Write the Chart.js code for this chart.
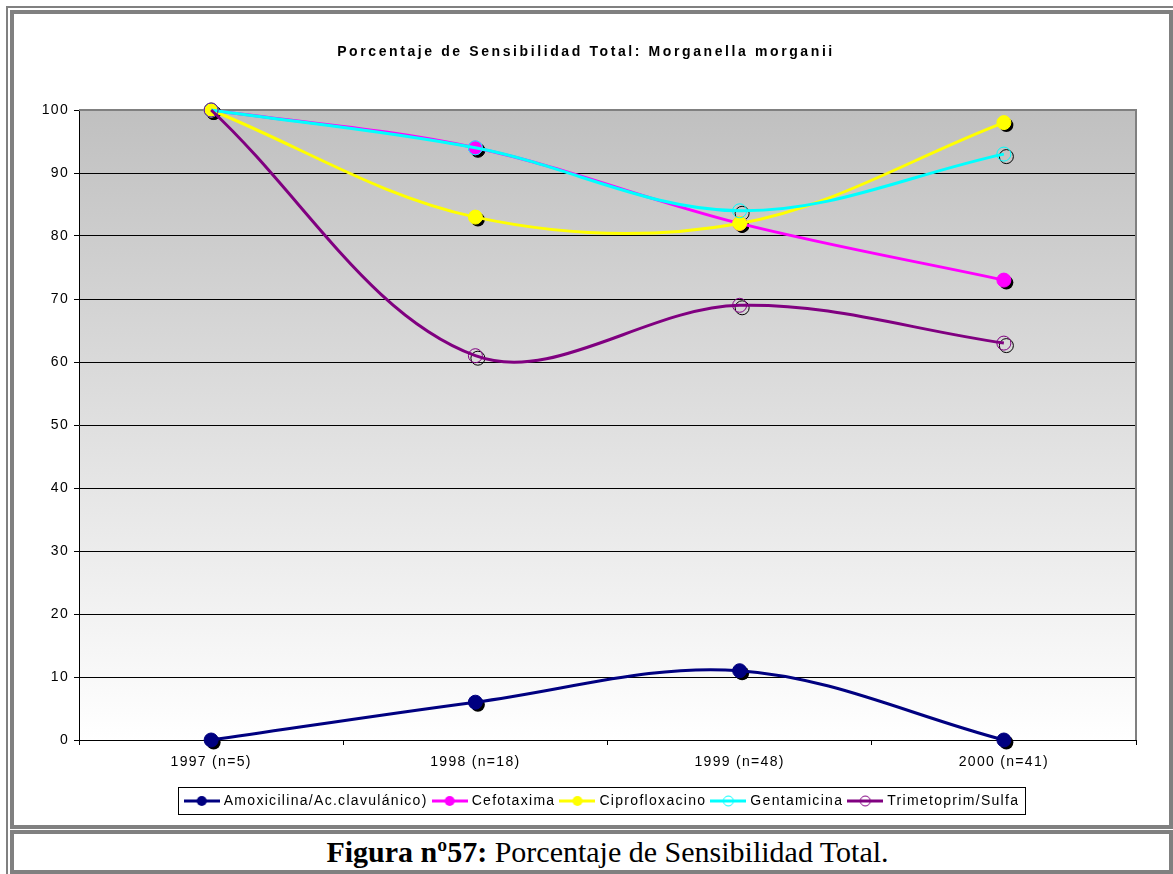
<!DOCTYPE html>
<html>
<head>
<meta charset="utf-8">
<script src="https://cdn.jsdelivr.net/npm/chart.js@4.4.1/dist/chart.umd.min.js"></script>
<style>
    body { margin: 0; background: #fff; }
    .outer-top { position: absolute; left: 6px; top: 6px; width: 1167px; height: 2px; background: #808080; }
    .outer-left { position: absolute; left: 6px; top: 6px; width: 2px; height: 868px; background: #808080; }
    .chart-box { position: absolute; left: 10px; top: 10px; width: 1163px; height: 819px; border: 4px solid #808080; box-sizing: border-box; }
    .chart-box canvas { position: absolute; left: 0; top: 0; }
    .caption-box { position: absolute; left: 10px; top: 830px; width: 1163px; height: 44px; border: 4px solid #808080; box-sizing: border-box;
        font-family: "Liberation Serif", "Times New Roman", serif; font-size: 30px; text-align: center; line-height: 36px; padding-left: 32px; }
</style>
</head>
<body>
<div class="outer-top"></div>
<div class="outer-left"></div>
<div class="chart-box">
    <canvas id="lineChart" width="1155" height="811"></canvas>
</div>
<div class="caption-box"><b>Figura nº57:</b> Porcentaje de Sensibilidad Total.</div>

<script>
    const titleText = 'Porcentaje de Sensibilidad Total: Morganella morganii';
    const years = ['1997 (n=5)', '1998 (n=18)', '1999 (n=48)', '2000 (n=41)'];
    const amoxicilina = [0, 6, 11, 0];
    const cefotaxima = [100, 94, 82, 73];
    const ciprofloxacino = [100, 83, 82, 98];
    const gentamicina = [100, 94, 84, 93];
    const trimetoprim = [100, 61, 69, 63];

    const series = [
        {label: 'Amoxicilina/Ac.clavulánico)', data: amoxicilina, color: '#000080', hollow: false},
        {label: 'Cefotaxima', data: cefotaxima, color: '#FF00FF', hollow: false},
        {label: 'Ciprofloxacino', data: ciprofloxacino, color: '#FFFF00', hollow: false},
        {label: 'Gentamicina', data: gentamicina, color: '#00FFFF', hollow: true},
        {label: 'Trimetoprim/Sulfa', data: trimetoprim, color: '#800080', hollow: true}
    ];

    const fontFamily = '"Liberation Sans", Arial, sans-serif';

    function legendMarker(color, hollow) {
        const c = document.createElement('canvas');
        c.width = 36;
        c.height = 14;
        const g = c.getContext('2d');
        g.strokeStyle = color;
        g.lineWidth = 3;
        g.beginPath();
        g.moveTo(0, 7);
        g.lineTo(36, 7);
        g.stroke();
        g.beginPath();
        g.arc(18, 7, 5, 0, Math.PI * 2);
        if (hollow) {
            g.lineWidth = 1;
            g.stroke();
        } else {
            g.fillStyle = color;
            g.fill();
        }
        return c;
    }

    const datasets = series.map((s, i) => ({
        label: s.label,
        data: s.data,
        hollow: s.hollow,
        order: series.length - i,
        borderColor: s.color,
        backgroundColor: s.color,
        borderWidth: 3,
        tension: 0.35,
        clip: false,
        pointRadius: 7,
        pointHoverRadius: 7,
        pointBorderWidth: 1,
        pointBorderColor: s.color,
        pointBackgroundColor: s.hollow ? 'rgba(0,0,0,0)' : s.color,
        pointStyle: 'circle',
        legendMarker: legendMarker(s.color, s.hollow)
    }));

    const spacing = {
        id: 'spacing',
        beforeUpdate(chart) { chart.ctx.letterSpacing = '1.3px'; },
        beforeDraw(chart) { chart.ctx.letterSpacing = '1.3px'; },
        afterLayout(chart) {
            // legend sits a bit right of the canvas centre in the original
            chart.legend.left += 18;
            chart.legend.right += 18;
        }
    };

    const plotBackground = {
        id: 'plotBackground',
        beforeDraw(chart) {
            const {ctx, chartArea: a} = chart;
            const grad = ctx.createLinearGradient(0, a.top, 0, a.bottom);
            grad.addColorStop(0, '#c0c0c0');
            grad.addColorStop(1, '#ffffff');
            ctx.save();
            ctx.fillStyle = grad;
            ctx.fillRect(a.left, a.top, a.right - a.left, a.bottom - a.top);
            ctx.restore();
        },
        beforeDatasetsDraw(chart) {
            const {ctx, chartArea: a} = chart;
            ctx.save();
            ctx.strokeStyle = '#808080';
            ctx.lineWidth = 2;
            ctx.beginPath();
            ctx.moveTo(a.left, a.top);
            ctx.lineTo(a.right, a.top);
            ctx.lineTo(a.right, a.bottom);
            ctx.stroke();
            ctx.restore();
        }
    };

    const markerShadows = {
        id: 'markerShadows',
        beforeDatasetsDraw(chart) {
            const ctx = chart.ctx;
            ctx.save();
            chart.data.datasets.forEach((ds, i) => {
                chart.getDatasetMeta(i).data.forEach((pt) => {
                    ctx.beginPath();
                    ctx.arc(pt.x + 2.5, pt.y + 2.5, 7, 0, Math.PI * 2);
                    if (ds.hollow) {
                        ctx.strokeStyle = '#000';
                        ctx.lineWidth = 1;
                        ctx.stroke();
                    } else {
                        ctx.fillStyle = '#000';
                        ctx.fill();
                    }
                });
            });
            ctx.restore();
        }
    };

    const titleAndLegendBox = {
        id: 'titleAndLegendBox',
        afterDraw(chart) {
            const ctx = chart.ctx;
            ctx.save();
            ctx.letterSpacing = '2.6px';
            ctx.font = 'bold 14px ' + fontFamily;
            ctx.fillStyle = '#000';
            ctx.textAlign = 'center';
            ctx.textBaseline = 'middle';
            ctx.fillText(titleText, 572, 38);

            const boxes = chart.legend.legendHitBoxes;
            if (boxes && boxes.length) {
                const first = boxes[0];
                const last = boxes[boxes.length - 1];
                ctx.strokeStyle = '#000';
                ctx.lineWidth = 1;
                ctx.strokeRect(Math.round(first.left) - 8.5, Math.round(first.top) - 6.5,
                    Math.round(last.left + last.width - first.left) + 14, Math.round(first.height) + 13);
            }
            ctx.restore();
        }
    };

    new Chart(document.getElementById('lineChart'), {
        type: 'line',
        data: {labels: years, datasets: datasets},
        plugins: [spacing, plotBackground, markerShadows, titleAndLegendBox],
        options: {
            responsive: false,
            animation: false,
            events: [],
            layout: {padding: {left: 20, right: 33, top: 96, bottom: 7}},
            plugins: {
                title: {display: false},
                tooltip: {enabled: false},
                legend: {
                    display: true,
                    position: 'bottom',
                    labels: {
                        color: '#000',
                        font: {family: fontFamily, size: 14},
                        usePointStyle: true,
                        pointStyleWidth: 30,
                        padding: 7,
                        generateLabels(chart) {
                            return chart.data.datasets.map((ds, i) => ({
                                text: ds.label,
                                datasetIndex: i,
                                pointStyle: ds.legendMarker,
                                fontColor: '#000',
                                lineWidth: 0,
                                hidden: false
                            }));
                        },
                        sort: (a, b) => a.datasetIndex - b.datasetIndex
                    }
                }
            },
            scales: {
                x: {
                    offset: true,
                    afterFit(scale) { scale.height = 47; },
                    grid: {offset: true, drawOnChartArea: false, drawTicks: true, tickLength: 5, color: '#000'},
                    border: {display: true, color: '#000', width: 1},
                    ticks: {color: '#000', padding: 9, font: {family: fontFamily, size: 14}}
                },
                y: {
                    min: 0,
                    max: 100,
                    afterFit(scale) { scale.width = 45; },
                    grid: {
                        color: (c) => (c.tick && c.tick.value === 100 ? '#808080' : '#000'),
                        tickColor: '#000',
                        drawTicks: true,
                        tickLength: 5
                    },
                    border: {display: true, color: '#000', width: 1},
                    ticks: {stepSize: 10, color: '#000', padding: 5, font: {family: fontFamily, size: 14}}
                }
            }
        }
    });
</script>
</body>
</html>
